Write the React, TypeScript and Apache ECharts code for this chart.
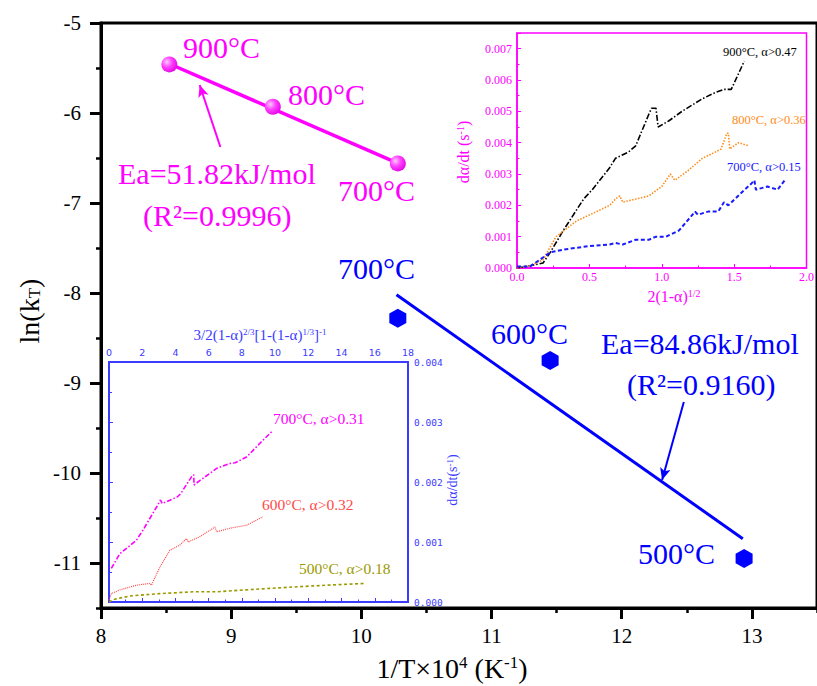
import React, { useEffect, useRef } from "react";
import * as echarts from "echarts";

// ---------- Main plot data ----------
const mainXTicks = [8, 9, 10, 11, 12, 13];
const mainXMinor = [8.5, 9.5, 10.5, 11.5, 12.5, 13.5];
const mainYTicks = [-11, -10, -9, -8, -7, -6, -5];
const mainYMinor = [-11.5, -10.5, -9.5, -8.5, -7.5, -6.5, -5.5];

const magentaX = [8.525, 9.32, 10.28];
const magentaY = [-5.46, -5.93, -6.56];
const magentaFitX = [8.52, 10.3];
const magentaFitY = [-5.45, -6.57];

const blueX = [10.28, 11.45, 12.94];
const blueY = [-8.28, -8.75, -10.95];
const blueFitX = [10.27, 12.93];
const blueFitY = [-8.02, -10.73];

const magentaArrow = [[8.917, -6.378], [8.758, -5.689]];
const blueArrow = [[12.477, -9.211], [12.31, -10.078]];

// ---------- Inset 1 (top right) ----------
const in1BlackX = [0, 0.1, 0.18, 0.23, 0.32, 0.46, 0.52, 0.64, 0.68, 0.77, 0.82, 0.91, 0.93, 0.96, 0.975, 1.05, 1.14, 1.28, 1.37, 1.43, 1.48, 1.5, 1.55, 1.57];
const in1BlackY = [0, 0.00008, 0.00016, 0.0005, 0.0012, 0.0022, 0.0025, 0.0032, 0.0035, 0.0037, 0.0039, 0.0049, 0.0051, 0.0051, 0.0045, 0.0047, 0.005, 0.0054, 0.0056, 0.0057, 0.0057, 0.0059, 0.0064, 0.0066];
const in1OrangeX = [0, 0.1, 0.18, 0.27, 0.41, 0.55, 0.64, 0.68, 0.71, 0.73, 0.82, 0.91, 1.0, 1.06, 1.09, 1.18, 1.28, 1.37, 1.41, 1.45, 1.46, 1.47, 1.53, 1.6];
const in1OrangeY = [0, 0.00008, 0.00027, 0.001, 0.0015, 0.0018, 0.002, 0.0022, 0.0023, 0.0021, 0.0022, 0.0023, 0.0026, 0.003, 0.0028, 0.0031, 0.0035, 0.0037, 0.0038, 0.0043, 0.0043, 0.0038, 0.004, 0.0039];
const in1BlueX = [0, 0.09, 0.16, 0.23, 0.34, 0.5, 0.64, 0.68, 0.73, 0.82, 0.91, 0.96, 1.03, 1.12, 1.23, 1.25, 1.32, 1.39, 1.43, 1.46, 1.55, 1.62, 1.64, 1.65, 1.73, 1.8, 1.85];
const in1BlueY = [0.00005, 0.00005, 0.00027, 0.0005, 0.0006, 0.0007, 0.00075, 0.0008, 0.00075, 0.0009, 0.0009, 0.001, 0.001, 0.0012, 0.0018, 0.0017, 0.0018, 0.0018, 0.0021, 0.002, 0.0024, 0.0027, 0.0028, 0.0025, 0.0026, 0.0025, 0.0028];
const in1YLabels = [0, 0.001, 0.002, 0.003, 0.004, 0.005, 0.006, 0.007];

// ---------- Inset 2 (bottom left) ----------
const in2MagX = [0.14, 0.64, 1.65, 2.05, 2.9, 3.1, 3.2, 4.1, 4.3, 5.0, 5.1, 5.12, 5.5, 6.5, 7.3, 7.6, 8.3, 9.1, 9.8];
const in2MagY = [0.00056, 0.0008, 0.00103, 0.0012, 0.0016, 0.0017, 0.00164, 0.00175, 0.0018, 0.0021, 0.00212, 0.00195, 0.00203, 0.00223, 0.00231, 0.00232, 0.00242, 0.00265, 0.00284];
const in2RedX = [0, 0.14, 0.64, 1.65, 2.45, 2.55, 3.06, 3.66, 4.27, 4.67, 4.77, 5.47, 6.28, 6.38, 6.48, 7.28, 8.29, 9.26];
const in2RedY = [0.00003, 0.00014, 0.0002, 0.00028, 0.00031, 0.00028, 0.00058, 0.00086, 0.00095, 0.00106, 0.001, 0.00109, 0.00123, 0.00125, 0.00117, 0.00123, 0.00128, 0.00142];
const in2OliveX = [0, 0.24, 1.25, 3.06, 5.07, 6.48, 8.09, 11.1, 13.1, 15.4];
const in2OliveY = [0, 0.00004, 0.0001, 0.00014, 0.00017, 0.00017, 0.0002, 0.00025, 0.00028, 0.00031];

const SERIF = "Liberation Serif, Times New Roman, serif";
const MAG = "#ff00ff";
const BLUE = "#0000ff";
const IN2BLUE = "#3b3bff";

const pairs = (xs: number[], ys: number[]) => xs.map((x, i) => [x, ys[i]]);

const hexPath = "path://M50,0 L93.3,25 L93.3,75 L50,100 L6.7,75 L6.7,25 Z";

function txt(x: number, y: number, text: string, size: number, color: string) {
  return {
    type: "text",
    x,
    y,
    z: 50,
    silent: true,
    style: {
      text,
      fill: color,
      fontSize: size,
      fontFamily: SERIF,
      align: "left",
      verticalAlign: "middle",
    },
  };
}

export default function App() {
  const ref = useRef<HTMLDivElement>(null);
  useEffect(() => {
    document.body.style.margin = "0";
    if (!ref.current) return;
    const chart = echarts.init(ref.current, null, { renderer: "svg" });

    const sphere = new echarts.graphic.RadialGradient(0.35, 0.35, 0.75, [
      { offset: 0, color: "#ffc8ff" },
      { offset: 0.45, color: "#ff40ff" },
      { offset: 1, color: "#e000e0" },
    ]);

    const supRich = (size: number, color: string) => ({
      sup: { fontSize: size, fontFamily: SERIF, fill: color, color, verticalAlign: "top" },
      sub: { fontSize: size, fontFamily: SERIF, fill: color, color, verticalAlign: "bottom" },
    });

    const option: any = {
      animation: false,
      backgroundColor: "#ffffff",
      textStyle: { fontFamily: SERIF },
      grid: [
        { left: 101, top: 23, width: 726, height: 585, show: true, borderColor: "#000", borderWidth: 3, backgroundColor: "transparent" },
        { left: 517, top: 33, width: 292, height: 235, show: true, borderColor: MAG, borderWidth: 1.5, backgroundColor: "#fff" },
        { left: 109, top: 362, width: 299, height: 240, show: true, borderColor: IN2BLUE, borderWidth: 2, backgroundColor: "#fff" },
      ],
      xAxis: [
        {
          gridIndex: 0, type: "value", min: 8, max: 13.5, interval: 0.5,
          axisLine: { lineStyle: { color: "#000", width: 3 } },
          axisTick: { customValues: mainXTicks, length: 11, lineStyle: { color: "#000", width: 3 } },
          axisLabel: { customValues: mainXTicks, fontSize: 21, fontFamily: SERIF, color: "#000", margin: 17 },
          splitLine: { show: false },
        },
        {
          gridIndex: 0, type: "value", min: 8, max: 13.5, interval: 0.5, position: "bottom",
          axisLine: { show: false },
          axisTick: { customValues: mainXMinor, length: 5, lineStyle: { color: "#000", width: 2.5 } },
          axisLabel: { show: false },
          splitLine: { show: false },
        },
        {
          gridIndex: 1, type: "value", min: 0, max: 2, interval: 0.5,
          axisLine: { lineStyle: { color: MAG, width: 1.5 } },
          axisTick: { inside: true, length: 4, lineStyle: { color: MAG } },
          minorTick: { show: true, splitNumber: 2, length: 2.5, lineStyle: { color: MAG } },
          axisLabel: { fontSize: 12, fontFamily: SERIF, color: MAG, margin: 3, formatter: (v: number) => v.toFixed(1) },
          splitLine: { show: false },
        },
        {
          gridIndex: 2, type: "value", min: 0, max: 18, interval: 2, position: "top",
          axisLine: { lineStyle: { color: IN2BLUE, width: 2 } },
          axisTick: { inside: false, length: 4, lineStyle: { color: IN2BLUE } },
          minorTick: { show: true, splitNumber: 2, length: 2.5, lineStyle: { color: IN2BLUE } },
          axisLabel: { fontSize: 9.5, fontFamily: "DejaVu Sans, sans-serif", color: IN2BLUE, margin: 5 },
          splitLine: { show: false },
        },
      ],
      yAxis: [
        {
          gridIndex: 0, type: "value", min: -11.5, max: -5, interval: 0.5,
          axisLine: { show: true, lineStyle: { color: "#000", width: 3 } },
          axisTick: { show: true, customValues: mainYTicks, length: 11, lineStyle: { color: "#000", width: 3 } },
          axisLabel: { customValues: mainYTicks, fontSize: 21, fontFamily: SERIF, color: "#000", margin: 20 },
          splitLine: { show: false },
        },
        {
          gridIndex: 0, type: "value", min: -11.5, max: -5, interval: 0.5, position: "left",
          axisLine: { show: false },
          axisTick: { show: true, customValues: mainYMinor, length: 5, lineStyle: { color: "#000", width: 2.5 } },
          axisLabel: { show: false },
          splitLine: { show: false },
        },
        {
          gridIndex: 1, type: "value", min: 0, max: 0.0075, interval: 0.001,
          axisLine: { show: true, lineStyle: { color: MAG, width: 1.5 } },
          axisTick: { show: true, inside: true, length: 4, lineStyle: { color: MAG } },
          minorTick: { show: true, splitNumber: 2, length: 2.5, lineStyle: { color: MAG } },
          axisLabel: { customValues: in1YLabels, fontSize: 12, fontFamily: SERIF, color: MAG, margin: 5, formatter: (v: number) => v.toFixed(3) },
          splitLine: { show: false },
        },
        {
          gridIndex: 2, type: "value", min: 0, max: 0.004, interval: 0.001, position: "right",
          axisLine: { show: true, lineStyle: { color: IN2BLUE, width: 2 } },
          axisTick: { show: true, inside: false, length: 4, lineStyle: { color: IN2BLUE } },
          minorTick: { show: true, splitNumber: 2, length: 3, lineStyle: { color: IN2BLUE } },
          axisLabel: { fontSize: 9.5, fontFamily: "DejaVu Sans Mono, monospace", color: IN2BLUE, margin: 6, formatter: (v: number) => v.toFixed(3) },
          splitLine: { show: false },
        },
      ],
      series: [
        {
          type: "line", xAxisIndex: 0, yAxisIndex: 0, symbol: "none",
          data: pairs(magentaFitX, magentaFitY),
          lineStyle: { color: MAG, width: 3.5 },
          markLine: {
            silent: true, symbol: ["none", "arrow"], symbolSize: [8, 12],
            label: { show: false },
            lineStyle: { color: MAG, width: 2, type: "solid" },
            data: [[{ coord: magentaArrow[0] }, { coord: magentaArrow[1] }]],
          },
        },
        {
          type: "scatter", xAxisIndex: 0, yAxisIndex: 0, symbol: "circle", symbolSize: 16,
          data: pairs(magentaX, magentaY),
          itemStyle: { color: sphere, opacity: 1 },
          z: 5,
        },
        {
          type: "line", xAxisIndex: 0, yAxisIndex: 0, symbol: "none",
          data: pairs(blueFitX, blueFitY),
          lineStyle: { color: BLUE, width: 3 },
          markLine: {
            silent: true, symbol: ["none", "arrow"], symbolSize: [8, 12],
            label: { show: false },
            lineStyle: { color: BLUE, width: 2, type: "solid" },
            data: [[{ coord: blueArrow[0] }, { coord: blueArrow[1] }]],
          },
        },
        {
          type: "scatter", xAxisIndex: 0, yAxisIndex: 0, symbol: hexPath, symbolSize: [17, 19],
          data: pairs(blueX, blueY),
          itemStyle: { color: BLUE, opacity: 1 },
          z: 5,
        },
        // inset 1
        {
          type: "line", xAxisIndex: 2, yAxisIndex: 2, symbol: "none", z: 10,
          data: pairs(in1BlackX, in1BlackY),
          lineStyle: { color: "#000", width: 1.6, type: [6, 2, 1.5, 2] },
        },
        {
          type: "line", xAxisIndex: 2, yAxisIndex: 2, symbol: "none", z: 10,
          data: pairs(in1OrangeX, in1OrangeY),
          lineStyle: { color: "#ff8c1a", width: 1.6, type: [1.5, 1.5] },
        },
        {
          type: "line", xAxisIndex: 2, yAxisIndex: 2, symbol: "none", z: 10,
          data: pairs(in1BlueX, in1BlueY),
          lineStyle: { color: "#1a1aff", width: 2, type: [4, 2.5] },
        },
        // inset 2
        {
          type: "line", xAxisIndex: 3, yAxisIndex: 3, symbol: "none", z: 10,
          data: pairs(in2MagX, in2MagY),
          lineStyle: { color: MAG, width: 1.6, type: [5, 2, 1.5, 2] },
        },
        {
          type: "line", xAxisIndex: 3, yAxisIndex: 3, symbol: "none", z: 10,
          data: pairs(in2RedX, in2RedY),
          lineStyle: { color: "#ff4a4a", width: 1.2, type: [1, 1] },
        },
        {
          type: "line", xAxisIndex: 3, yAxisIndex: 3, symbol: "none", z: 10,
          data: pairs(in2OliveX, in2OliveY),
          lineStyle: { color: "#999900", width: 1.6, type: [3, 2.5] },
        },
      ],
      graphic: [
        // main annotations
        txt(183, 47, "900°C", 30, MAG),
        txt(288, 94, "800°C", 30, MAG),
        txt(338, 190, "700°C", 30, MAG),
        txt(118, 173, "Ea=51.82kJ/mol", 30, MAG),
        txt(143, 215, "(R²=0.9996)", 30, MAG),
        txt(338, 268, "700°C", 30, BLUE),
        txt(491, 333, "600°C", 30, BLUE),
        txt(601, 343, "Ea=84.86kJ/mol", 30, BLUE),
        txt(627, 384, "(R²=0.9160)", 30, BLUE),
        txt(638, 553, "500°C", 30, BLUE),
        // main axis titles
        {
          type: "text", x: 452, y: 668, z: 50, silent: true,
          style: {
            text: "1/T×10{sup|4} (K{sup|-1})", fill: "#000", fontSize: 28, fontFamily: SERIF,
            align: "center", verticalAlign: "middle", rich: supRich(17, "#000"),
          },
        },
        {
          type: "text", x: 29, y: 311, rotation: Math.PI / 2, z: 50, silent: true,
          style: {
            text: "ln(k{sub|T})", fill: "#000", fontSize: 28, fontFamily: SERIF,
            align: "center", verticalAlign: "middle", rich: supRich(17, "#000"),
          },
        },
        // inset 1 labels
        txt(723, 52, "900°C, α>0.47", 12.5, "#000"),
        txt(732, 120, "800°C, α>0.36", 12.5, "#ff8c1a"),
        txt(727, 167, "700°C, α>0.15", 12.5, "#1a1aff"),
        {
          type: "text", x: 674, y: 296, z: 50, silent: true,
          style: {
            text: "2(1-α){sup|1/2}", fill: MAG, fontSize: 16, fontFamily: SERIF,
            align: "center", verticalAlign: "middle", rich: supRich(10, MAG),
          },
        },
        {
          type: "text", x: 463, y: 152, rotation: Math.PI / 2, z: 50, silent: true,
          style: {
            text: "dα/dt (s{sup|-1})", fill: MAG, fontSize: 16, fontFamily: SERIF,
            align: "center", verticalAlign: "middle", rich: supRich(10, MAG),
          },
        },
        // inset 2 labels
        txt(273, 418, "700°C, α>0.31", 15.5, MAG),
        txt(262, 504, "600°C, α>0.32", 15.5, "#ff4a4a"),
        txt(299, 568, "500°C, α>0.18", 15.5, "#999900"),
        {
          type: "text", x: 260, y: 335, z: 50, silent: true,
          style: {
            text: "3/2(1-α){sup|2/3}[1-(1-α){sup|1/3}]{sup|-1}", fill: IN2BLUE, fontSize: 15, fontFamily: SERIF,
            align: "center", verticalAlign: "middle", rich: supRich(9, IN2BLUE),
          },
        },
        {
          type: "text", x: 452, y: 480, rotation: Math.PI / 2, z: 50, silent: true,
          style: {
            text: "dα/dt(s{sup|-1})", fill: IN2BLUE, fontSize: 14, fontFamily: SERIF,
            align: "center", verticalAlign: "middle", rich: supRich(9, IN2BLUE),
          },
        },
      ],
    };

    chart.setOption(option);
    return () => chart.dispose();
  }, []);

  return <div ref={ref} style={{ width: 817, height: 686 }} />;
}
